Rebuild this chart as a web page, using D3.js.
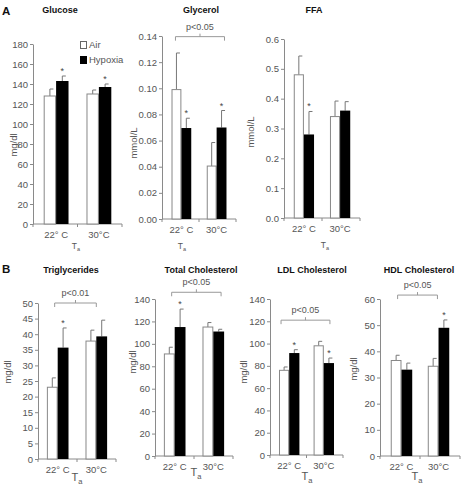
<!DOCTYPE html>
<html><head><meta charset="utf-8">
<script src="https://cdnjs.cloudflare.com/ajax/libs/d3/7.8.5/d3.min.js"></script>
<style>
html,body{margin:0;padding:0;background:#fff;}
svg{display:block;font-family:"Liberation Sans",Arial,Helvetica,sans-serif;}
</style></head>
<body>
<svg id="chart" width="461" height="490"></svg>
<script>
// ---------- data ----------
const groups = ["22° C", "30°C"];
const seriesNames = ["Air", "Hypoxia"];
const panelTitles = ["Glucose", "Glycerol", "FFA", "Triglycerides", "Total Cholesterol", "LDL Cholesterol", "HDL Cholesterol"];
const unitLabels = ["mg/dl", "mmol/L", "mmol/L", "mg/dl", "mg/dl", "mg/dl", "mg/dl"];
const axisMax = [180, 0.14, 0.6, 50, 140, 140, 60];
const tickStep = [20, 0.02, 0.1, 5, 20, 20, 10];
const tickDecimals = [0, 2, 1, 0, 0, 0, 0];

const airMean = [[128, 130], [0.099, 0.0405], [0.48, 0.34], [23, 37.8], [91, 115], [76, 98], [36.5, 34.3]];
const airSE = [[7, 4], [0.028, 0.018], [0.063, 0.052], [3, 3.5], [6, 4], [3, 4], [2, 3]];
const hypMean = [[143, 137], [0.0696, 0.07], [0.28, 0.36], [35.7, 39.3], [115, 111], [91.5, 82.5], [33, 49]];
const hypSE = [[5, 3], [0.0075, 0.013], [0.077, 0.03], [6.3, 5.2], [16, 2], [3, 4.5], [2.5, 3]];
const hypStar = [[1, 1], [1, 1], [1, 0], [1, 0], [1, 0], [1, 1], [0, 1]];
const pLabels = [null, "p<0.05", null, "p<0.01", "p<0.05", "p<0.05", "p<0.05"];
const bracketLevel = [null, 0.1395, null, 50, 146, 121, 61.5];

// ---------- layout ----------
const L = [
  {x0:33, x1:122, yT:44, yB:224, po:0.25, pi:0.42, tx:60, ty:13, ux:14, uy:145, ax:76, ay:249, big:false},
  {x0:162, x1:236, yT:36, yB:219, po:0.27, pi:0.44, tx:201, ty:13, ux:134, uy:143, ax:182, ay:249, big:false, bf:[0.2, 0.9]},
  {x0:284, x1:360, yT:39, yB:218, po:0.27, pi:0.44, tx:314, ty:13, ux:251, uy:132, ax:325, ay:248, big:false},
  {x0:38, x1:116, yT:303, yB:459, po:0.23, pi:0.44, tx:71, ty:273, ux:8, uy:372, ax:77, ay:481, big:true, bf:[0.36, 0.5]},
  {x0:155, x1:233, yT:299, yB:456, po:0.23, pi:0.44, tx:201, ty:273, ux:133, uy:362, ax:196, ay:476, big:true, bf:[0.36, 0.86]},
  {x0:270, x1:343, yT:299, yB:455, po:0.26, pi:0.41, tx:312, ty:273, ux:244, uy:372, ax:307, ay:480, big:true, bf:[0.1, 0.8]},
  {x0:380, x1:460, yT:299, yB:456, po:0.29, pi:0.42, tx:419, ty:273, ux:354, uy:369, ax:417, ay:480, big:true, bf:[0.32, 0.45]}
];

const svg = d3.select("#chart");
const axisCol = "#8a8a8a", textCol = "#555";

svg.append("text").attr("x", 2).attr("y", 15).attr("font-size", 11.5).attr("font-weight", "bold").attr("fill", "#111").text("A");
svg.append("text").attr("x", 2).attr("y", 273).attr("font-size", 11.5).attr("font-weight", "bold").attr("fill", "#111").text("B");

panelTitles.forEach((title, i) => {
  const c = L[i];
  const g = svg.append("g");
  const y = d3.scaleLinear().domain([0, axisMax[i]]).range([c.yB, c.yT]);
  const x = d3.scaleBand().domain(groups).range([c.x0, c.x1]).paddingInner(c.pi).paddingOuter(c.po);
  const sub = d3.scaleBand().domain(seriesNames).range([0, x.bandwidth()]);
  const bw = sub.bandwidth();

  // title
  g.append("text").attr("x", c.tx).attr("y", c.ty).attr("text-anchor", "middle")
    .attr("font-size", 9).attr("font-weight", "bold").attr("fill", "#111").text(title);

  // y axis
  const ticks = d3.range(0, Math.round(axisMax[i] / tickStep[i]) + 1).map(k => +(k * tickStep[i]).toFixed(4));
  const ya = g.append("g").attr("transform", `translate(${c.x0},0)`)
    .call(d3.axisLeft(y).tickValues(ticks).tickSize(3).tickSizeOuter(0).tickFormat(d3.format(`.${tickDecimals[i]}f`)));
  ya.select(".domain").attr("stroke", axisCol);
  ya.selectAll(".tick line").attr("stroke", axisCol);
  ya.selectAll(".tick text").attr("fill", textCol).attr("font-size", 9.5).attr("font-family", "Liberation Sans, Arial, sans-serif").attr("x", -5);

  // unit label
  g.append("text").attr("transform", `translate(${c.ux},${c.uy}) rotate(-90)`).attr("text-anchor", "middle")
    .attr("dy", "0.35em").attr("font-size", 9.5).attr("fill", textCol).text(unitLabels[i]);

  // x axis
  g.append("line").attr("x1", c.x0).attr("x2", c.x1).attr("y1", c.yB).attr("y2", c.yB).attr("stroke", axisCol);
  [c.x0, (x(groups[0]) + x.bandwidth() + x(groups[1])) / 2, c.x1].forEach(tx => {
    g.append("line").attr("x1", tx).attr("x2", tx).attr("y1", c.yB).attr("y2", c.yB + 3).attr("stroke", axisCol);
  });
  groups.forEach(gr => {
    g.append("text").attr("x", x(gr) + x.bandwidth() / 2).attr("y", c.yB + 13.5).attr("text-anchor", "middle")
      .attr("font-size", 9.5).attr("fill", textCol).text(gr);
  });
  // T_a
  const ta = g.append("text").attr("x", c.ax).attr("y", c.ay).attr("text-anchor", "middle")
    .attr("font-size", c.big ? 11 : 8.5).attr("fill", textCol);
  ta.append("tspan").text("T");
  ta.append("tspan").attr("font-size", c.big ? 7.5 : 5.5).attr("dy", c.big ? 3 : 2).text("a");

  // bars
  const rows = groups.map((gr, j) => [
    {gr, s: "Air", m: airMean[i][j], e: airSE[i][j], star: 0},
    {gr, s: "Hypoxia", m: hypMean[i][j], e: hypSE[i][j], star: hypStar[i][j]}
  ]).flat();
  rows.forEach(d => {
    const bx = x(d.gr) + sub(d.s);
    const top = y(d.m);
    const etop = y(d.m + d.e);
    const cx = bx + bw / 2;
    // error bar
    g.append("line").attr("x1", cx).attr("x2", cx).attr("y1", top).attr("y2", etop).attr("stroke", "#777").attr("stroke-width", 1);
    g.append("line").attr("x1", cx).attr("x2", cx + 3.5).attr("y1", etop).attr("y2", etop).attr("stroke", "#777").attr("stroke-width", 1);
    if (d.s === "Air") {
      g.append("rect").attr("x", bx + 0.5).attr("y", top).attr("width", bw - 1).attr("height", c.yB - top)
        .attr("fill", "#fff").attr("stroke", "#888").attr("stroke-width", 1);
    } else {
      g.append("rect").attr("x", bx).attr("y", top).attr("width", bw).attr("height", c.yB - top).attr("fill", "#000");
    }
    if (d.star) {
      g.append("text").attr("x", cx).attr("y", etop - 2).attr("text-anchor", "middle")
        .attr("font-size", 9).attr("fill", "#444").text("*");
    }
  });

  // significance bracket
  if (pLabels[i]) {
    const by = y(bracketLevel[i]);
    const xa = x(groups[0]) + x.bandwidth() * c.bf[0];
    const xb = x(groups[1]) + x.bandwidth() * c.bf[1];
    const path = d3.path();
    path.moveTo(xa, by + 4); path.lineTo(xa, by); path.lineTo(xb, by); path.lineTo(xb, by + 4);
    path.moveTo((xa + xb) / 2, by); path.lineTo((xa + xb) / 2, by - 3);
    g.append("path").attr("d", path.toString()).attr("fill", "none").attr("stroke", "#999");
    g.append("text").attr("x", (xa + xb) / 2).attr("y", by - 7).attr("text-anchor", "middle")
      .attr("font-size", 9).attr("fill", textCol).text(pLabels[i]);
  }

  // legend (glucose panel only)
  if (i === 0) {
    seriesNames.forEach((s, k) => {
      const ly = 45 + k * 15;
      g.append("rect").attr("x", 80.5).attr("y", ly - 3.5).attr("width", 6).attr("height", 7)
        .attr("fill", s === "Air" ? "#fff" : "#000").attr("stroke", s === "Air" ? "#666" : "#000");
      g.append("text").attr("x", 89).attr("y", ly).attr("dy", "0.35em").attr("font-size", 9.5).attr("fill", textCol).text(s);
    });
  }
});
</script>
</body></html>
